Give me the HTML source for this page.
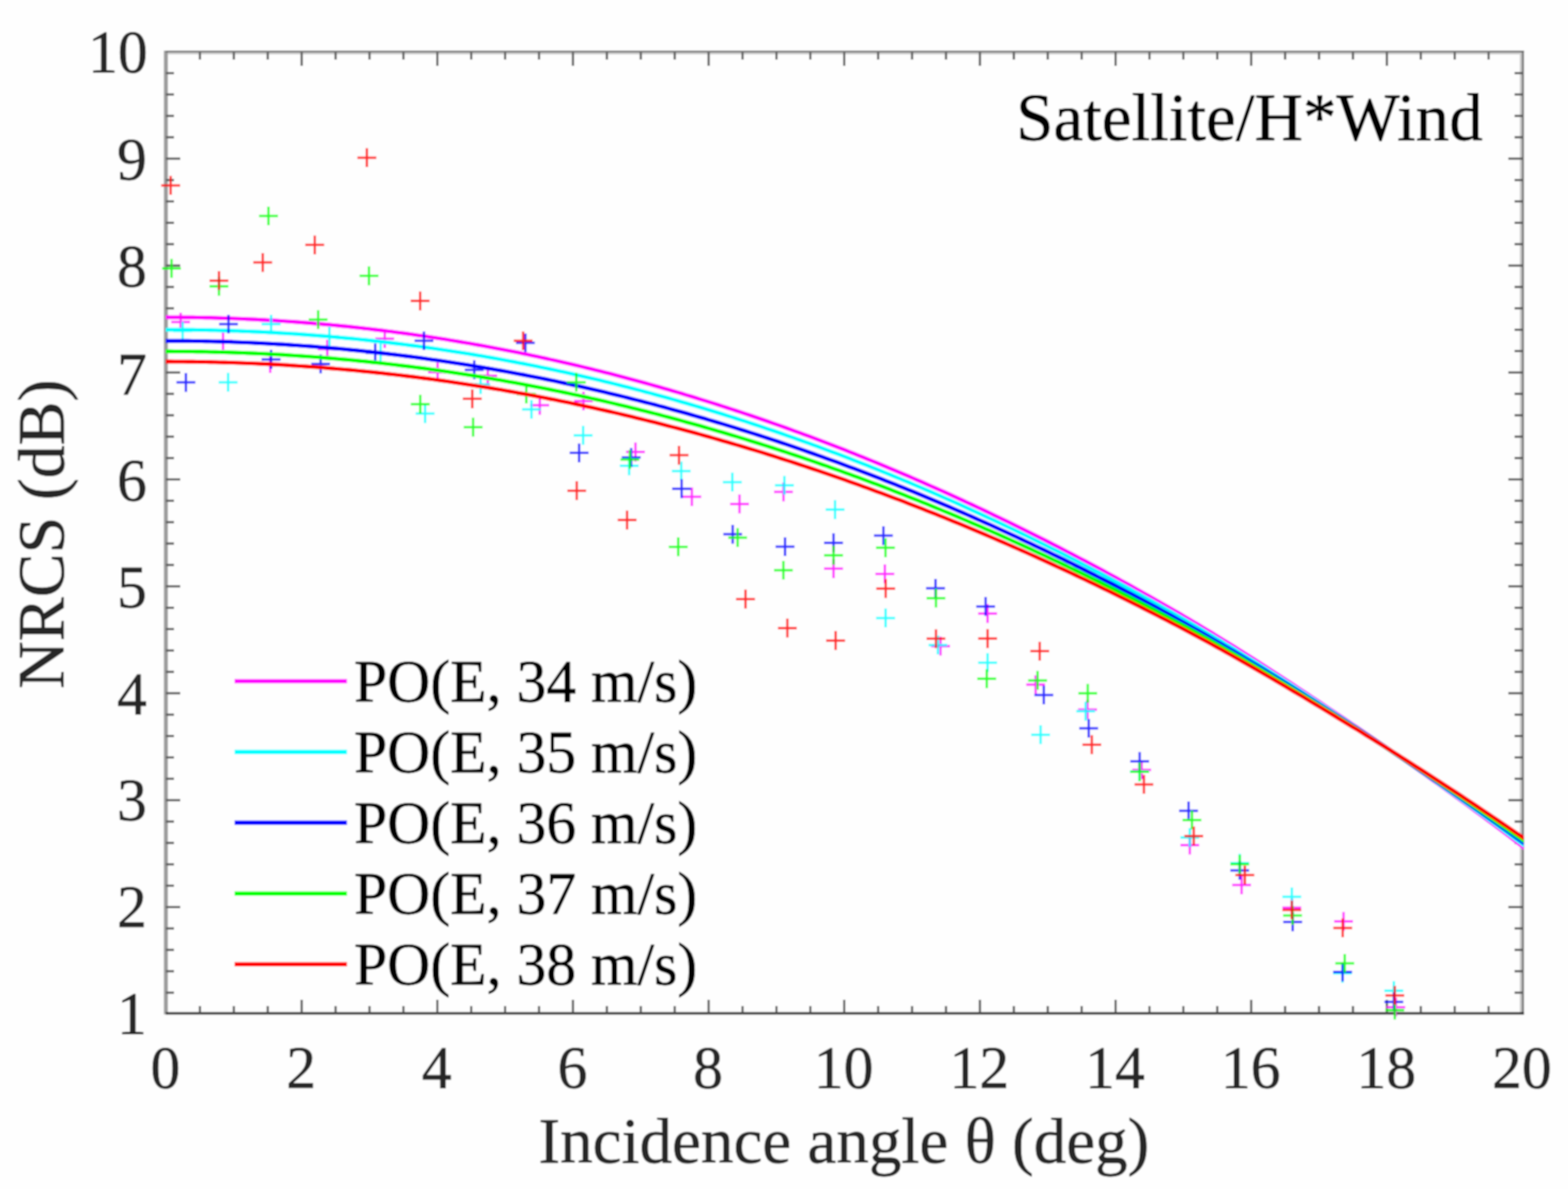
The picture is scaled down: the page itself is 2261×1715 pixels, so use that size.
<!DOCTYPE html>
<html lang="en"><head><meta charset="utf-8"><title>NRCS vs incidence angle</title>
<style>html,body{margin:0;padding:0;background:#fff}body{width:2261px;height:1715px;overflow:hidden}svg{display:block}text{font-family:"Liberation Serif","Times New Roman",Times,serif;stroke-width:0.9px;stroke-linejoin:round}#legend text,#title{stroke:#000}#ylabels text,#xlabels text,#xlabel,#ylabel{stroke:#262626}</style></head><body>
<svg width="2261" height="1715" viewBox="0 0 2261 1715">
<rect width="2261" height="1715" fill="#fefefe"/>
<defs><filter id="soft" x="0" y="0" width="2261" height="1715" filterUnits="userSpaceOnUse"><feGaussianBlur stdDeviation="1.0"/></filter></defs>
<g id="figure" filter="url(#soft)">
<rect width="2261" height="1715" fill="#fefefe"/>
<defs><clipPath id="pc"><rect x="238.9" y="73.0" width="1958.5" height="1391.1"/></clipPath></defs>
<g id="axes" fill="none">
<rect x="236.3" y="73" width="5.8" height="1390.2" fill="#9c9c9c"/>
<rect x="2191.6" y="73" width="3" height="1390.2" fill="#c8c8c8"/>
<rect x="2194.6" y="73" width="2.8" height="1390.2" fill="#6a6a6a"/>
<rect x="239" y="73" width="1958.4" height="2.7" fill="#6a6a6a"/>
<rect x="242" y="75.7" width="1949.6" height="2.6" fill="#c8c8c8"/>
<rect x="239" y="1459.8" width="1958.4" height="3.6" fill="#262626"/>
</g>
<g id="ticks" stroke="#555" stroke-width="3.2">
<line x1="288.3" y1="1461.6" x2="288.3" y2="1451.1"/>
<line x1="288.3" y1="75.5" x2="288.3" y2="86.0"/>
<line x1="337.2" y1="1461.6" x2="337.2" y2="1451.1"/>
<line x1="337.2" y1="75.5" x2="337.2" y2="86.0"/>
<line x1="386.1" y1="1461.6" x2="386.1" y2="1451.1"/>
<line x1="386.1" y1="75.5" x2="386.1" y2="86.0"/>
<line x1="435.0" y1="1461.6" x2="435.0" y2="1442.1"/>
<line x1="435.0" y1="75.5" x2="435.0" y2="95.0"/>
<line x1="483.9" y1="1461.6" x2="483.9" y2="1451.1"/>
<line x1="483.9" y1="75.5" x2="483.9" y2="86.0"/>
<line x1="532.8" y1="1461.6" x2="532.8" y2="1451.1"/>
<line x1="532.8" y1="75.5" x2="532.8" y2="86.0"/>
<line x1="581.7" y1="1461.6" x2="581.7" y2="1451.1"/>
<line x1="581.7" y1="75.5" x2="581.7" y2="86.0"/>
<line x1="630.6" y1="1461.6" x2="630.6" y2="1442.1"/>
<line x1="630.6" y1="75.5" x2="630.6" y2="95.0"/>
<line x1="679.5" y1="1461.6" x2="679.5" y2="1451.1"/>
<line x1="679.5" y1="75.5" x2="679.5" y2="86.0"/>
<line x1="728.4" y1="1461.6" x2="728.4" y2="1451.1"/>
<line x1="728.4" y1="75.5" x2="728.4" y2="86.0"/>
<line x1="777.3" y1="1461.6" x2="777.3" y2="1451.1"/>
<line x1="777.3" y1="75.5" x2="777.3" y2="86.0"/>
<line x1="826.2" y1="1461.6" x2="826.2" y2="1442.1"/>
<line x1="826.2" y1="75.5" x2="826.2" y2="95.0"/>
<line x1="875.1" y1="1461.6" x2="875.1" y2="1451.1"/>
<line x1="875.1" y1="75.5" x2="875.1" y2="86.0"/>
<line x1="924.0" y1="1461.6" x2="924.0" y2="1451.1"/>
<line x1="924.0" y1="75.5" x2="924.0" y2="86.0"/>
<line x1="972.9" y1="1461.6" x2="972.9" y2="1451.1"/>
<line x1="972.9" y1="75.5" x2="972.9" y2="86.0"/>
<line x1="1021.8" y1="1461.6" x2="1021.8" y2="1442.1"/>
<line x1="1021.8" y1="75.5" x2="1021.8" y2="95.0"/>
<line x1="1070.7" y1="1461.6" x2="1070.7" y2="1451.1"/>
<line x1="1070.7" y1="75.5" x2="1070.7" y2="86.0"/>
<line x1="1119.6" y1="1461.6" x2="1119.6" y2="1451.1"/>
<line x1="1119.6" y1="75.5" x2="1119.6" y2="86.0"/>
<line x1="1168.5" y1="1461.6" x2="1168.5" y2="1451.1"/>
<line x1="1168.5" y1="75.5" x2="1168.5" y2="86.0"/>
<line x1="1217.4" y1="1461.6" x2="1217.4" y2="1442.1"/>
<line x1="1217.4" y1="75.5" x2="1217.4" y2="95.0"/>
<line x1="1266.3" y1="1461.6" x2="1266.3" y2="1451.1"/>
<line x1="1266.3" y1="75.5" x2="1266.3" y2="86.0"/>
<line x1="1315.2" y1="1461.6" x2="1315.2" y2="1451.1"/>
<line x1="1315.2" y1="75.5" x2="1315.2" y2="86.0"/>
<line x1="1364.1" y1="1461.6" x2="1364.1" y2="1451.1"/>
<line x1="1364.1" y1="75.5" x2="1364.1" y2="86.0"/>
<line x1="1413.0" y1="1461.6" x2="1413.0" y2="1442.1"/>
<line x1="1413.0" y1="75.5" x2="1413.0" y2="95.0"/>
<line x1="1461.9" y1="1461.6" x2="1461.9" y2="1451.1"/>
<line x1="1461.9" y1="75.5" x2="1461.9" y2="86.0"/>
<line x1="1510.8" y1="1461.6" x2="1510.8" y2="1451.1"/>
<line x1="1510.8" y1="75.5" x2="1510.8" y2="86.0"/>
<line x1="1559.7" y1="1461.6" x2="1559.7" y2="1451.1"/>
<line x1="1559.7" y1="75.5" x2="1559.7" y2="86.0"/>
<line x1="1608.6" y1="1461.6" x2="1608.6" y2="1442.1"/>
<line x1="1608.6" y1="75.5" x2="1608.6" y2="95.0"/>
<line x1="1657.5" y1="1461.6" x2="1657.5" y2="1451.1"/>
<line x1="1657.5" y1="75.5" x2="1657.5" y2="86.0"/>
<line x1="1706.4" y1="1461.6" x2="1706.4" y2="1451.1"/>
<line x1="1706.4" y1="75.5" x2="1706.4" y2="86.0"/>
<line x1="1755.3" y1="1461.6" x2="1755.3" y2="1451.1"/>
<line x1="1755.3" y1="75.5" x2="1755.3" y2="86.0"/>
<line x1="1804.2" y1="1461.6" x2="1804.2" y2="1442.1"/>
<line x1="1804.2" y1="75.5" x2="1804.2" y2="95.0"/>
<line x1="1853.1" y1="1461.6" x2="1853.1" y2="1451.1"/>
<line x1="1853.1" y1="75.5" x2="1853.1" y2="86.0"/>
<line x1="1902.0" y1="1461.6" x2="1902.0" y2="1451.1"/>
<line x1="1902.0" y1="75.5" x2="1902.0" y2="86.0"/>
<line x1="1950.9" y1="1461.6" x2="1950.9" y2="1451.1"/>
<line x1="1950.9" y1="75.5" x2="1950.9" y2="86.0"/>
<line x1="1999.8" y1="1461.6" x2="1999.8" y2="1442.1"/>
<line x1="1999.8" y1="75.5" x2="1999.8" y2="95.0"/>
<line x1="2048.7" y1="1461.6" x2="2048.7" y2="1451.1"/>
<line x1="2048.7" y1="75.5" x2="2048.7" y2="86.0"/>
<line x1="2097.6" y1="1461.6" x2="2097.6" y2="1451.1"/>
<line x1="2097.6" y1="75.5" x2="2097.6" y2="86.0"/>
<line x1="2146.5" y1="1461.6" x2="2146.5" y2="1451.1"/>
<line x1="2146.5" y1="75.5" x2="2146.5" y2="86.0"/>
<line x1="239.4" y1="1431.8" x2="250.9" y2="1431.8"/>
<line x1="2195.4" y1="1431.8" x2="2183.9" y2="1431.8"/>
<line x1="239.4" y1="1400.9" x2="250.9" y2="1400.9"/>
<line x1="2195.4" y1="1400.9" x2="2183.9" y2="1400.9"/>
<line x1="239.4" y1="1370.1" x2="250.9" y2="1370.1"/>
<line x1="2195.4" y1="1370.1" x2="2183.9" y2="1370.1"/>
<line x1="239.4" y1="1339.2" x2="250.9" y2="1339.2"/>
<line x1="2195.4" y1="1339.2" x2="2183.9" y2="1339.2"/>
<line x1="239.4" y1="1308.4" x2="259.9" y2="1308.4"/>
<line x1="2195.4" y1="1308.4" x2="2174.9" y2="1308.4"/>
<line x1="239.4" y1="1277.5" x2="250.9" y2="1277.5"/>
<line x1="2195.4" y1="1277.5" x2="2183.9" y2="1277.5"/>
<line x1="239.4" y1="1246.7" x2="250.9" y2="1246.7"/>
<line x1="2195.4" y1="1246.7" x2="2183.9" y2="1246.7"/>
<line x1="239.4" y1="1215.8" x2="250.9" y2="1215.8"/>
<line x1="2195.4" y1="1215.8" x2="2183.9" y2="1215.8"/>
<line x1="239.4" y1="1185.0" x2="250.9" y2="1185.0"/>
<line x1="2195.4" y1="1185.0" x2="2183.9" y2="1185.0"/>
<line x1="239.4" y1="1154.2" x2="259.9" y2="1154.2"/>
<line x1="2195.4" y1="1154.2" x2="2174.9" y2="1154.2"/>
<line x1="239.4" y1="1123.3" x2="250.9" y2="1123.3"/>
<line x1="2195.4" y1="1123.3" x2="2183.9" y2="1123.3"/>
<line x1="239.4" y1="1092.5" x2="250.9" y2="1092.5"/>
<line x1="2195.4" y1="1092.5" x2="2183.9" y2="1092.5"/>
<line x1="239.4" y1="1061.6" x2="250.9" y2="1061.6"/>
<line x1="2195.4" y1="1061.6" x2="2183.9" y2="1061.6"/>
<line x1="239.4" y1="1030.8" x2="250.9" y2="1030.8"/>
<line x1="2195.4" y1="1030.8" x2="2183.9" y2="1030.8"/>
<line x1="239.4" y1="999.9" x2="259.9" y2="999.9"/>
<line x1="2195.4" y1="999.9" x2="2174.9" y2="999.9"/>
<line x1="239.4" y1="969.1" x2="250.9" y2="969.1"/>
<line x1="2195.4" y1="969.1" x2="2183.9" y2="969.1"/>
<line x1="239.4" y1="938.3" x2="250.9" y2="938.3"/>
<line x1="2195.4" y1="938.3" x2="2183.9" y2="938.3"/>
<line x1="239.4" y1="907.4" x2="250.9" y2="907.4"/>
<line x1="2195.4" y1="907.4" x2="2183.9" y2="907.4"/>
<line x1="239.4" y1="876.6" x2="250.9" y2="876.6"/>
<line x1="2195.4" y1="876.6" x2="2183.9" y2="876.6"/>
<line x1="239.4" y1="845.7" x2="259.9" y2="845.7"/>
<line x1="2195.4" y1="845.7" x2="2174.9" y2="845.7"/>
<line x1="239.4" y1="814.9" x2="250.9" y2="814.9"/>
<line x1="2195.4" y1="814.9" x2="2183.9" y2="814.9"/>
<line x1="239.4" y1="784.0" x2="250.9" y2="784.0"/>
<line x1="2195.4" y1="784.0" x2="2183.9" y2="784.0"/>
<line x1="239.4" y1="753.2" x2="250.9" y2="753.2"/>
<line x1="2195.4" y1="753.2" x2="2183.9" y2="753.2"/>
<line x1="239.4" y1="722.3" x2="250.9" y2="722.3"/>
<line x1="2195.4" y1="722.3" x2="2183.9" y2="722.3"/>
<line x1="239.4" y1="691.5" x2="259.9" y2="691.5"/>
<line x1="2195.4" y1="691.5" x2="2174.9" y2="691.5"/>
<line x1="239.4" y1="660.7" x2="250.9" y2="660.7"/>
<line x1="2195.4" y1="660.7" x2="2183.9" y2="660.7"/>
<line x1="239.4" y1="629.8" x2="250.9" y2="629.8"/>
<line x1="2195.4" y1="629.8" x2="2183.9" y2="629.8"/>
<line x1="239.4" y1="599.0" x2="250.9" y2="599.0"/>
<line x1="2195.4" y1="599.0" x2="2183.9" y2="599.0"/>
<line x1="239.4" y1="568.1" x2="250.9" y2="568.1"/>
<line x1="2195.4" y1="568.1" x2="2183.9" y2="568.1"/>
<line x1="239.4" y1="537.3" x2="259.9" y2="537.3"/>
<line x1="2195.4" y1="537.3" x2="2174.9" y2="537.3"/>
<line x1="239.4" y1="506.4" x2="250.9" y2="506.4"/>
<line x1="2195.4" y1="506.4" x2="2183.9" y2="506.4"/>
<line x1="239.4" y1="475.6" x2="250.9" y2="475.6"/>
<line x1="2195.4" y1="475.6" x2="2183.9" y2="475.6"/>
<line x1="239.4" y1="444.7" x2="250.9" y2="444.7"/>
<line x1="2195.4" y1="444.7" x2="2183.9" y2="444.7"/>
<line x1="239.4" y1="413.9" x2="250.9" y2="413.9"/>
<line x1="2195.4" y1="413.9" x2="2183.9" y2="413.9"/>
<line x1="239.4" y1="383.1" x2="259.9" y2="383.1"/>
<line x1="2195.4" y1="383.1" x2="2174.9" y2="383.1"/>
<line x1="239.4" y1="352.2" x2="250.9" y2="352.2"/>
<line x1="2195.4" y1="352.2" x2="2183.9" y2="352.2"/>
<line x1="239.4" y1="321.4" x2="250.9" y2="321.4"/>
<line x1="2195.4" y1="321.4" x2="2183.9" y2="321.4"/>
<line x1="239.4" y1="290.5" x2="250.9" y2="290.5"/>
<line x1="2195.4" y1="290.5" x2="2183.9" y2="290.5"/>
<line x1="239.4" y1="259.7" x2="250.9" y2="259.7"/>
<line x1="2195.4" y1="259.7" x2="2183.9" y2="259.7"/>
<line x1="239.4" y1="228.8" x2="259.9" y2="228.8"/>
<line x1="2195.4" y1="228.8" x2="2174.9" y2="228.8"/>
<line x1="239.4" y1="198.0" x2="250.9" y2="198.0"/>
<line x1="2195.4" y1="198.0" x2="2183.9" y2="198.0"/>
<line x1="239.4" y1="167.2" x2="250.9" y2="167.2"/>
<line x1="2195.4" y1="167.2" x2="2183.9" y2="167.2"/>
<line x1="239.4" y1="136.3" x2="250.9" y2="136.3"/>
<line x1="2195.4" y1="136.3" x2="2183.9" y2="136.3"/>
<line x1="239.4" y1="105.5" x2="250.9" y2="105.5"/>
<line x1="2195.4" y1="105.5" x2="2183.9" y2="105.5"/>
</g>
<g id="data" fill="none">
<path d="M246.9 464.6h27.2M260.5 451.0v27.2M308.0 491.5h27.2M321.6 477.9v27.2M376.0 524.4h27.2M389.6 510.8v27.2M458.3 503.5h27.2M471.9 489.9v27.2M541.1 488.5h27.2M554.7 474.9v27.2M617.4 536.8h27.2M631.0 523.2v27.2M689.8 541.9h27.2M703.4 528.3v27.2M764.8 584.6h27.2M778.4 571.0v27.2M827.8 578.5h27.2M841.4 564.9v27.2M902.8 651.8h27.2M916.4 638.2v27.2M984.0 716.5h27.2M997.6 702.9v27.2M1052.8 726.9h27.2M1066.4 713.3v27.2M1116.1 709.6h27.2M1129.7 696.0v27.2M1188.3 820.3h27.2M1201.9 806.7v27.2M1262.3 827.7h27.2M1275.9 814.1v27.2M1342.7 931.9h27.2M1356.3 918.3v27.2M1410.5 884.9h27.2M1424.1 871.3v27.2M1479.8 987.5h27.2M1493.4 973.9v27.2M1554.6 1023.4h27.2M1568.2 1009.8v27.2M1632.7 1110.5h27.2M1646.3 1096.9v27.2M1702.0 1219.0h27.2M1715.6 1205.4v27.2M1776.8 1276.4h27.2M1790.4 1262.8v27.2M1849.1 1309.3h27.2M1862.7 1295.7v27.2M1923.8 1329.1h27.2M1937.4 1315.5v27.2M1999.1 1452.7h27.2M2012.7 1439.1v27.2" stroke="#ff00ff" stroke-width="3.5" stroke-opacity="0.82"/>
<path clip-path="url(#pc)" d="M238.4 457.5 L244.9 457.6 L251.5 457.6 L258.0 457.6 L264.5 457.7 L271.1 457.7 L277.6 457.8 L284.1 457.9 L290.7 458.1 L297.2 458.2 L303.7 458.3 L310.3 458.5 L316.8 458.7 L323.3 458.9 L329.9 459.1 L336.4 459.4 L342.9 459.6 L349.5 459.9 L356.0 460.2 L362.5 460.5 L369.1 460.8 L375.6 461.2 L382.1 461.5 L388.7 461.9 L395.2 462.3 L401.7 462.7 L408.3 463.1 L414.8 463.6 L421.3 464.0 L427.9 464.5 L434.4 465.0 L440.9 465.5 L447.5 466.0 L454.0 466.6 L460.5 467.1 L467.1 467.7 L473.6 468.3 L480.1 468.9 L486.7 469.5 L493.2 470.2 L499.7 470.8 L506.3 471.5 L512.8 472.2 L519.3 472.9 L525.9 473.7 L532.4 474.4 L538.9 475.2 L545.5 476.0 L552.0 476.8 L558.5 477.6 L565.1 478.4 L571.6 479.3 L578.1 480.1 L584.7 481.0 L591.2 481.9 L597.7 482.8 L604.3 483.8 L610.8 484.7 L617.3 485.7 L623.9 486.7 L630.4 487.7 L636.9 488.7 L643.5 489.7 L650.0 490.8 L656.5 491.9 L663.1 493.0 L669.6 494.1 L676.1 495.2 L682.7 496.4 L689.2 497.5 L695.7 498.7 L702.3 499.9 L708.8 501.1 L715.3 502.3 L721.9 503.6 L728.4 504.8 L734.9 506.1 L741.5 507.4 L748.0 508.7 L754.5 510.1 L761.1 511.4 L767.6 512.8 L774.1 514.2 L780.7 515.6 L787.2 517.0 L793.7 518.5 L800.3 519.9 L806.8 521.4 L813.3 522.9 L819.9 524.4 L826.4 525.9 L832.9 527.4 L839.5 529.0 L846.0 530.6 L852.5 532.2 L859.1 533.8 L865.6 535.4 L872.1 537.1 L878.7 538.7 L885.2 540.4 L891.7 542.1 L898.3 543.8 L904.8 545.6 L911.3 547.3 L917.9 549.1 L924.4 550.9 L930.9 552.7 L937.5 554.5 L944.0 556.3 L950.5 558.2 L957.1 560.1 L963.6 561.9 L970.1 563.8 L976.7 565.8 L983.2 567.7 L989.7 569.7 L996.3 571.6 L1002.8 573.6 L1009.3 575.7 L1015.9 577.7 L1022.4 579.7 L1028.9 581.8 L1035.5 583.9 L1042.0 586.0 L1048.5 588.1 L1055.1 590.2 L1061.6 592.4 L1068.1 594.5 L1074.7 596.7 L1081.2 598.9 L1087.7 601.1 L1094.3 603.4 L1100.8 605.6 L1107.3 607.9 L1113.9 610.2 L1120.4 612.5 L1126.9 614.8 L1133.5 617.1 L1140.0 619.5 L1146.5 621.9 L1153.1 624.3 L1159.6 626.7 L1166.1 629.1 L1172.7 631.5 L1179.2 634.0 L1185.7 636.5 L1192.3 639.0 L1198.8 641.5 L1205.3 644.0 L1211.9 646.6 L1218.4 649.1 L1224.9 651.7 L1231.5 654.3 L1238.0 656.9 L1244.5 659.5 L1251.1 662.2 L1257.6 664.9 L1264.1 667.5 L1270.7 670.2 L1277.2 673.0 L1283.7 675.7 L1290.3 678.4 L1296.8 681.2 L1303.3 684.0 L1309.9 686.8 L1316.4 689.6 L1322.9 692.5 L1329.5 695.3 L1336.0 698.2 L1342.5 701.1 L1349.1 704.0 L1355.6 706.9 L1362.1 709.8 L1368.7 712.8 L1375.2 715.7 L1381.7 718.7 L1388.3 721.7 L1394.8 724.8 L1401.3 727.8 L1407.9 730.9 L1414.4 733.9 L1420.9 737.0 L1427.5 740.1 L1434.0 743.3 L1440.5 746.4 L1447.1 749.6 L1453.6 752.7 L1460.1 755.9 L1466.7 759.1 L1473.2 762.3 L1479.7 765.6 L1486.3 768.8 L1492.8 772.1 L1499.3 775.4 L1505.9 778.7 L1512.4 782.0 L1518.9 785.4 L1525.5 788.7 L1532.0 792.1 L1538.5 795.5 L1545.1 798.9 L1551.6 802.3 L1558.1 805.8 L1564.7 809.2 L1571.2 812.7 L1577.7 816.2 L1584.3 819.7 L1590.8 823.2 L1597.3 826.8 L1603.9 830.3 L1610.4 833.9 L1616.9 837.5 L1623.5 841.1 L1630.0 844.7 L1636.5 848.3 L1643.1 852.0 L1649.6 855.7 L1656.1 859.4 L1662.7 863.1 L1669.2 866.8 L1675.7 870.5 L1682.3 874.3 L1688.8 878.0 L1695.3 881.8 L1701.9 885.6 L1708.4 889.5 L1714.9 893.3 L1721.5 897.2 L1728.0 901.1 L1734.5 905.0 L1741.1 909.0 L1747.6 912.9 L1754.1 916.9 L1760.7 920.9 L1767.2 925.0 L1773.7 929.0 L1780.3 933.1 L1786.8 937.2 L1793.3 941.3 L1799.9 945.5 L1806.4 949.6 L1812.9 953.8 L1819.5 958.0 L1826.0 962.2 L1832.5 966.4 L1839.1 970.7 L1845.6 974.9 L1852.1 979.2 L1858.7 983.5 L1865.2 987.8 L1871.7 992.1 L1878.3 996.4 L1884.8 1000.7 L1891.3 1005.1 L1897.9 1009.4 L1904.4 1013.8 L1910.9 1018.2 L1917.5 1022.6 L1924.0 1027.0 L1930.5 1031.4 L1937.1 1035.8 L1943.6 1040.2 L1950.1 1044.6 L1956.7 1049.0 L1963.2 1053.5 L1969.7 1057.9 L1976.3 1062.4 L1982.8 1066.9 L1989.3 1071.4 L1995.9 1075.9 L2002.4 1080.4 L2008.9 1085.0 L2015.5 1089.5 L2022.0 1094.1 L2028.5 1098.7 L2035.1 1103.3 L2041.6 1107.9 L2048.1 1112.5 L2054.7 1117.2 L2061.2 1121.9 L2067.7 1126.5 L2074.3 1131.2 L2080.8 1135.9 L2087.3 1140.7 L2093.9 1145.4 L2100.4 1150.2 L2106.9 1154.9 L2113.5 1159.7 L2120.0 1164.5 L2126.5 1169.3 L2133.1 1174.2 L2139.6 1179.0 L2146.1 1183.9 L2152.7 1188.7 L2159.2 1193.6 L2165.7 1198.5 L2172.3 1203.5 L2178.8 1208.4 L2185.3 1213.3 L2191.9 1218.3 L2198.4 1223.3" stroke="#ff00ff" stroke-width="5.9" stroke-linejoin="round"/>
<path d="M249.8 477.6h27.2M263.4 464.0v27.2M315.3 551.4h27.2M328.9 537.8v27.2M377.3 467.5h27.2M390.9 453.9v27.2M461.4 485.2h27.2M475.0 471.6v27.2M535.1 509.6h27.2M548.7 496.0v27.2M599.4 596.6h27.2M613.0 583.0v27.2M679.4 554.6h27.2M693.0 541.0v27.2M752.8 590.5h27.2M766.4 576.9v27.2M827.2 627.9h27.2M840.8 614.3v27.2M893.7 671.8h27.2M907.3 658.2v27.2M968.8 679.4h27.2M982.4 665.8v27.2M1042.4 695.4h27.2M1056.0 681.8v27.2M1117.5 700.0h27.2M1131.1 686.4v27.2M1190.6 735.1h27.2M1204.2 721.5v27.2M1263.4 891.4h27.2M1277.0 877.8v27.2M1338.9 930.4h27.2M1352.5 916.8v27.2M1410.5 955.7h27.2M1424.1 942.1v27.2M1486.9 1059.7h27.2M1500.5 1046.1v27.2M1551.9 1025.8h27.2M1565.5 1012.2v27.2M1629.4 1113.0h27.2M1643.0 1099.4v27.2M1702.0 1208.0h27.2M1715.6 1194.4v27.2M1774.0 1245.0h27.2M1787.6 1231.4v27.2M1849.1 1293.5h27.2M1862.7 1279.9v27.2M1922.1 1403.8h27.2M1935.7 1390.2v27.2M1996.2 1428.9h27.2M2009.8 1415.3v27.2" stroke="#00ffff" stroke-width="3.5" stroke-opacity="0.82"/>
<path clip-path="url(#pc)" d="M238.4 475.6 L244.9 475.6 L251.5 475.6 L258.0 475.6 L264.5 475.7 L271.1 475.7 L277.6 475.8 L284.1 475.9 L290.7 476.0 L297.2 476.1 L303.7 476.3 L310.3 476.4 L316.8 476.6 L323.3 476.8 L329.9 477.0 L336.4 477.2 L342.9 477.4 L349.5 477.7 L356.0 477.9 L362.5 478.2 L369.1 478.5 L375.6 478.8 L382.1 479.1 L388.7 479.5 L395.2 479.8 L401.7 480.2 L408.3 480.6 L414.8 481.0 L421.3 481.4 L427.9 481.8 L434.4 482.3 L440.9 482.8 L447.5 483.2 L454.0 483.7 L460.5 484.2 L467.1 484.8 L473.6 485.3 L480.1 485.9 L486.7 486.5 L493.2 487.1 L499.7 487.7 L506.3 488.3 L512.8 488.9 L519.3 489.6 L525.9 490.3 L532.4 491.0 L538.9 491.7 L545.5 492.4 L552.0 493.2 L558.5 493.9 L565.1 494.7 L571.6 495.5 L578.1 496.3 L584.7 497.1 L591.2 498.0 L597.7 498.8 L604.3 499.7 L610.8 500.6 L617.3 501.5 L623.9 502.4 L630.4 503.4 L636.9 504.3 L643.5 505.3 L650.0 506.3 L656.5 507.3 L663.1 508.3 L669.6 509.4 L676.1 510.4 L682.7 511.5 L689.2 512.6 L695.7 513.7 L702.3 514.9 L708.8 516.0 L715.3 517.2 L721.9 518.4 L728.4 519.6 L734.9 520.8 L741.5 522.0 L748.0 523.3 L754.5 524.5 L761.1 525.8 L767.6 527.1 L774.1 528.4 L780.7 529.8 L787.2 531.1 L793.7 532.5 L800.3 533.9 L806.8 535.3 L813.3 536.7 L819.9 538.1 L826.4 539.6 L832.9 541.1 L839.5 542.6 L846.0 544.1 L852.5 545.6 L859.1 547.1 L865.6 548.7 L872.1 550.3 L878.7 551.9 L885.2 553.5 L891.7 555.1 L898.3 556.8 L904.8 558.4 L911.3 560.1 L917.9 561.8 L924.4 563.5 L930.9 565.3 L937.5 567.0 L944.0 568.8 L950.5 570.6 L957.1 572.4 L963.6 574.2 L970.1 576.0 L976.7 577.9 L983.2 579.8 L989.7 581.7 L996.3 583.6 L1002.8 585.5 L1009.3 587.4 L1015.9 589.4 L1022.4 591.4 L1028.9 593.4 L1035.5 595.4 L1042.0 597.4 L1048.5 599.5 L1055.1 601.5 L1061.6 603.6 L1068.1 605.7 L1074.7 607.8 L1081.2 610.0 L1087.7 612.1 L1094.3 614.3 L1100.8 616.5 L1107.3 618.7 L1113.9 620.9 L1120.4 623.1 L1126.9 625.4 L1133.5 627.7 L1140.0 630.0 L1146.5 632.3 L1153.1 634.6 L1159.6 637.0 L1166.1 639.3 L1172.7 641.7 L1179.2 644.1 L1185.7 646.5 L1192.3 648.9 L1198.8 651.4 L1205.3 653.8 L1211.9 656.3 L1218.4 658.8 L1224.9 661.3 L1231.5 663.9 L1238.0 666.4 L1244.5 669.0 L1251.1 671.6 L1257.6 674.2 L1264.1 676.8 L1270.7 679.4 L1277.2 682.1 L1283.7 684.8 L1290.3 687.4 L1296.8 690.1 L1303.3 692.9 L1309.9 695.6 L1316.4 698.4 L1322.9 701.1 L1329.5 703.9 L1336.0 706.7 L1342.5 709.5 L1349.1 712.4 L1355.6 715.2 L1362.1 718.1 L1368.7 721.0 L1375.2 723.9 L1381.7 726.8 L1388.3 729.8 L1394.8 732.7 L1401.3 735.7 L1407.9 738.7 L1414.4 741.7 L1420.9 744.7 L1427.5 747.8 L1434.0 750.8 L1440.5 753.9 L1447.1 757.0 L1453.6 760.1 L1460.1 763.2 L1466.7 766.4 L1473.2 769.5 L1479.7 772.7 L1486.3 775.9 L1492.8 779.1 L1499.3 782.3 L1505.9 785.6 L1512.4 788.8 L1518.9 792.1 L1525.5 795.4 L1532.0 798.7 L1538.5 802.0 L1545.1 805.4 L1551.6 808.7 L1558.1 812.1 L1564.7 815.5 L1571.2 818.9 L1577.7 822.3 L1584.3 825.7 L1590.8 829.2 L1597.3 832.7 L1603.9 836.1 L1610.4 839.6 L1616.9 843.2 L1623.5 846.7 L1630.0 850.2 L1636.5 853.8 L1643.1 857.4 L1649.6 861.0 L1656.1 864.6 L1662.7 868.2 L1669.2 871.9 L1675.7 875.5 L1682.3 879.2 L1688.8 882.9 L1695.3 886.6 L1701.9 890.3 L1708.4 894.1 L1714.9 897.9 L1721.5 901.6 L1728.0 905.5 L1734.5 909.3 L1741.1 913.2 L1747.6 917.1 L1754.1 921.0 L1760.7 924.9 L1767.2 928.9 L1773.7 932.8 L1780.3 936.8 L1786.8 940.9 L1793.3 944.9 L1799.9 948.9 L1806.4 953.0 L1812.9 957.1 L1819.5 961.2 L1826.0 965.3 L1832.5 969.4 L1839.1 973.6 L1845.6 977.8 L1852.1 981.9 L1858.7 986.1 L1865.2 990.3 L1871.7 994.5 L1878.3 998.8 L1884.8 1003.0 L1891.3 1007.2 L1897.9 1011.5 L1904.4 1015.8 L1910.9 1020.0 L1917.5 1024.3 L1924.0 1028.6 L1930.5 1032.9 L1937.1 1037.2 L1943.6 1041.5 L1950.1 1045.9 L1956.7 1050.2 L1963.2 1054.5 L1969.7 1058.9 L1976.3 1063.2 L1982.8 1067.6 L1989.3 1072.0 L1995.9 1076.4 L2002.4 1080.8 L2008.9 1085.2 L2015.5 1089.7 L2022.0 1094.1 L2028.5 1098.6 L2035.1 1103.1 L2041.6 1107.6 L2048.1 1112.1 L2054.7 1116.6 L2061.2 1121.1 L2067.7 1125.7 L2074.3 1130.3 L2080.8 1134.9 L2087.3 1139.5 L2093.9 1144.1 L2100.4 1148.7 L2106.9 1153.3 L2113.5 1158.0 L2120.0 1162.7 L2126.5 1167.3 L2133.1 1172.0 L2139.6 1176.7 L2146.1 1181.5 L2152.7 1186.2 L2159.2 1190.9 L2165.7 1195.7 L2172.3 1200.5 L2178.8 1205.3 L2185.3 1210.1 L2191.9 1214.9 L2198.4 1219.7" stroke="#00ffff" stroke-width="5.9" stroke-linejoin="round"/>
<path d="M254.5 551.6h27.2M268.1 538.0v27.2M315.9 467.5h27.2M329.5 453.9v27.2M377.3 518.4h27.2M390.9 504.8v27.2M448.8 525.0h27.2M462.4 511.4v27.2M527.5 509.0h27.2M541.1 495.4v27.2M597.8 491.5h27.2M611.4 477.9v27.2M670.2 533.4h27.2M683.8 519.8v27.2M744.0 494.5h27.2M757.6 480.9v27.2M821.5 653.3h27.2M835.1 639.7v27.2M896.6 659.8h27.2M910.2 646.2v27.2M969.2 704.9h27.2M982.8 691.3v27.2M1042.9 770.6h27.2M1056.5 757.0v27.2M1118.4 788.5h27.2M1132.0 774.9v27.2M1188.3 782.9h27.2M1201.9 769.3v27.2M1260.2 772.6h27.2M1273.8 759.0v27.2M1335.4 848.6h27.2M1349.0 835.0v27.2M1407.7 874.7h27.2M1421.3 861.1v27.2M1491.6 1002.5h27.2M1505.2 988.9v27.2M1556.2 1050.5h27.2M1569.8 1036.9v27.2M1629.8 1098.3h27.2M1643.4 1084.7v27.2M1700.2 1169.5h27.2M1713.8 1155.9v27.2M1774.0 1255.5h27.2M1787.6 1241.9v27.2M1850.4 1329.7h27.2M1864.0 1316.1v27.2M1922.4 1401.9h27.2M1936.0 1388.3v27.2M1996.2 1445.2h27.2M2009.8 1431.6v27.2" stroke="#0000ff" stroke-width="3.5" stroke-opacity="0.82"/>
<path clip-path="url(#pc)" d="M238.4 491.7 L244.9 491.7 L251.5 491.7 L258.0 491.7 L264.5 491.8 L271.1 491.8 L277.6 491.9 L284.1 492.0 L290.7 492.1 L297.2 492.3 L303.7 492.4 L310.3 492.6 L316.8 492.7 L323.3 492.9 L329.9 493.1 L336.4 493.4 L342.9 493.6 L349.5 493.9 L356.0 494.1 L362.5 494.4 L369.1 494.7 L375.6 495.0 L382.1 495.4 L388.7 495.7 L395.2 496.1 L401.7 496.5 L408.3 496.8 L414.8 497.3 L421.3 497.7 L427.9 498.1 L434.4 498.6 L440.9 499.1 L447.5 499.5 L454.0 500.0 L460.5 500.6 L467.1 501.1 L473.6 501.7 L480.1 502.2 L486.7 502.8 L493.2 503.4 L499.7 504.0 L506.3 504.7 L512.8 505.3 L519.3 506.0 L525.9 506.6 L532.4 507.3 L538.9 508.1 L545.5 508.8 L552.0 509.5 L558.5 510.3 L565.1 511.1 L571.6 511.8 L578.1 512.7 L584.7 513.5 L591.2 514.3 L597.7 515.2 L604.3 516.0 L610.8 516.9 L617.3 517.8 L623.9 518.8 L630.4 519.7 L636.9 520.6 L643.5 521.6 L650.0 522.6 L656.5 523.6 L663.1 524.6 L669.6 525.6 L676.1 526.7 L682.7 527.8 L689.2 528.8 L695.7 529.9 L702.3 531.1 L708.8 532.2 L715.3 533.3 L721.9 534.5 L728.4 535.7 L734.9 536.9 L741.5 538.1 L748.0 539.3 L754.5 540.5 L761.1 541.8 L767.6 543.1 L774.1 544.4 L780.7 545.7 L787.2 547.0 L793.7 548.4 L800.3 549.7 L806.8 551.1 L813.3 552.5 L819.9 553.9 L826.4 555.3 L832.9 556.7 L839.5 558.2 L846.0 559.7 L852.5 561.2 L859.1 562.7 L865.6 564.2 L872.1 565.7 L878.7 567.3 L885.2 568.9 L891.7 570.4 L898.3 572.0 L904.8 573.7 L911.3 575.3 L917.9 577.0 L924.4 578.6 L930.9 580.3 L937.5 582.0 L944.0 583.7 L950.5 585.5 L957.1 587.2 L963.6 589.0 L970.1 590.8 L976.7 592.6 L983.2 594.4 L989.7 596.2 L996.3 598.1 L1002.8 600.0 L1009.3 601.8 L1015.9 603.7 L1022.4 605.7 L1028.9 607.6 L1035.5 609.6 L1042.0 611.5 L1048.5 613.5 L1055.1 615.5 L1061.6 617.5 L1068.1 619.6 L1074.7 621.6 L1081.2 623.7 L1087.7 625.8 L1094.3 627.9 L1100.8 630.0 L1107.3 632.1 L1113.9 634.3 L1120.4 636.4 L1126.9 638.6 L1133.5 640.8 L1140.0 643.0 L1146.5 645.3 L1153.1 647.5 L1159.6 649.8 L1166.1 652.1 L1172.7 654.4 L1179.2 656.7 L1185.7 659.0 L1192.3 661.4 L1198.8 663.7 L1205.3 666.1 L1211.9 668.5 L1218.4 670.9 L1224.9 673.4 L1231.5 675.8 L1238.0 678.3 L1244.5 680.7 L1251.1 683.2 L1257.6 685.8 L1264.1 688.3 L1270.7 690.8 L1277.2 693.4 L1283.7 696.0 L1290.3 698.6 L1296.8 701.2 L1303.3 703.8 L1309.9 706.5 L1316.4 709.1 L1322.9 711.8 L1329.5 714.5 L1336.0 717.2 L1342.5 720.0 L1349.1 722.7 L1355.6 725.5 L1362.1 728.2 L1368.7 731.0 L1375.2 733.9 L1381.7 736.7 L1388.3 739.5 L1394.8 742.4 L1401.3 745.3 L1407.9 748.2 L1414.4 751.1 L1420.9 754.0 L1427.5 756.9 L1434.0 759.9 L1440.5 762.9 L1447.1 765.9 L1453.6 768.9 L1460.1 771.9 L1466.7 774.9 L1473.2 778.0 L1479.7 781.1 L1486.3 784.2 L1492.8 787.3 L1499.3 790.4 L1505.9 793.5 L1512.4 796.7 L1518.9 799.9 L1525.5 803.0 L1532.0 806.2 L1538.5 809.5 L1545.1 812.7 L1551.6 816.0 L1558.1 819.2 L1564.7 822.5 L1571.2 825.8 L1577.7 829.1 L1584.3 832.5 L1590.8 835.8 L1597.3 839.2 L1603.9 842.5 L1610.4 845.9 L1616.9 849.4 L1623.5 852.8 L1630.0 856.2 L1636.5 859.7 L1643.1 863.2 L1649.6 866.7 L1656.1 870.2 L1662.7 873.7 L1669.2 877.2 L1675.7 880.8 L1682.3 884.4 L1688.8 887.9 L1695.3 891.5 L1701.9 895.2 L1708.4 898.8 L1714.9 902.5 L1721.5 906.2 L1728.0 909.9 L1734.5 913.6 L1741.1 917.4 L1747.6 921.2 L1754.1 925.0 L1760.7 928.8 L1767.2 932.7 L1773.7 936.5 L1780.3 940.4 L1786.8 944.3 L1793.3 948.2 L1799.9 952.2 L1806.4 956.2 L1812.9 960.1 L1819.5 964.1 L1826.0 968.1 L1832.5 972.2 L1839.1 976.2 L1845.6 980.3 L1852.1 984.3 L1858.7 988.4 L1865.2 992.5 L1871.7 996.6 L1878.3 1000.8 L1884.8 1004.9 L1891.3 1009.0 L1897.9 1013.2 L1904.4 1017.4 L1910.9 1021.5 L1917.5 1025.7 L1924.0 1029.9 L1930.5 1034.1 L1937.1 1038.3 L1943.6 1042.5 L1950.1 1046.7 L1956.7 1050.9 L1963.2 1055.2 L1969.7 1059.4 L1976.3 1063.7 L1982.8 1067.9 L1989.3 1072.2 L1995.9 1076.5 L2002.4 1080.8 L2008.9 1085.1 L2015.5 1089.5 L2022.0 1093.8 L2028.5 1098.2 L2035.1 1102.6 L2041.6 1107.0 L2048.1 1111.4 L2054.7 1115.8 L2061.2 1120.2 L2067.7 1124.7 L2074.3 1129.1 L2080.8 1133.6 L2087.3 1138.1 L2093.9 1142.6 L2100.4 1147.1 L2106.9 1151.7 L2113.5 1156.2 L2120.0 1160.8 L2126.5 1165.3 L2133.1 1169.9 L2139.6 1174.5 L2146.1 1179.1 L2152.7 1183.8 L2159.2 1188.4 L2165.7 1193.1 L2172.3 1197.7 L2178.8 1202.4 L2185.3 1207.1 L2191.9 1211.8 L2198.4 1216.5" stroke="#0000ff" stroke-width="5.9" stroke-linejoin="round"/>
<path d="M233.8 387.2h27.2M247.4 373.6v27.2M302.1 413.0h27.2M315.7 399.4v27.2M373.6 311.5h27.2M387.2 297.9v27.2M445.1 461.0h27.2M458.7 447.4v27.2M518.5 397.8h27.2M532.1 384.2v27.2M592.4 583.0h27.2M606.0 569.4v27.2M668.7 616.2h27.2M682.3 602.6v27.2M745.3 568.5h27.2M758.9 554.9v27.2M817.4 551.4h27.2M831.0 537.8v27.2M894.7 662.7h27.2M908.3 649.1v27.2M964.4 788.7h27.2M978.0 775.1v27.2M1050.0 775.4h27.2M1063.6 761.8v27.2M1116.0 822.5h27.2M1129.6 808.9v27.2M1188.3 800.9h27.2M1201.9 787.3v27.2M1263.2 790.1h27.2M1276.8 776.5v27.2M1336.0 862.7h27.2M1349.6 849.1v27.2M1409.2 979.0h27.2M1422.8 965.4v27.2M1482.6 981.4h27.2M1496.2 967.8v27.2M1554.9 1000.0h27.2M1568.5 986.4v27.2M1629.8 1113.3h27.2M1643.4 1099.7v27.2M1705.1 1182.7h27.2M1718.7 1169.1v27.2M1774.0 1246.6h27.2M1787.6 1233.0v27.2M1850.2 1320.5h27.2M1863.8 1306.9v27.2M1925.5 1389.5h27.2M1939.1 1375.9v27.2M1997.7 1457.0h27.2M2011.3 1443.4v27.2" stroke="#00ff00" stroke-width="3.5" stroke-opacity="0.82"/>
<path clip-path="url(#pc)" d="M238.4 506.8 L244.9 506.8 L251.5 506.9 L258.0 506.9 L264.5 506.9 L271.1 507.0 L277.6 507.1 L284.1 507.2 L290.7 507.3 L297.2 507.4 L303.7 507.6 L310.3 507.7 L316.8 507.9 L323.3 508.1 L329.9 508.3 L336.4 508.5 L342.9 508.7 L349.5 508.9 L356.0 509.2 L362.5 509.5 L369.1 509.8 L375.6 510.1 L382.1 510.4 L388.7 510.7 L395.2 511.1 L401.7 511.4 L408.3 511.8 L414.8 512.2 L421.3 512.6 L427.9 513.1 L434.4 513.5 L440.9 514.0 L447.5 514.4 L454.0 514.9 L460.5 515.4 L467.1 516.0 L473.6 516.5 L480.1 517.0 L486.7 517.6 L493.2 518.2 L499.7 518.8 L506.3 519.4 L512.8 520.0 L519.3 520.7 L525.9 521.3 L532.4 522.0 L538.9 522.7 L545.5 523.4 L552.0 524.1 L558.5 524.9 L565.1 525.6 L571.6 526.4 L578.1 527.2 L584.7 528.0 L591.2 528.8 L597.7 529.6 L604.3 530.5 L610.8 531.3 L617.3 532.2 L623.9 533.1 L630.4 534.0 L636.9 534.9 L643.5 535.9 L650.0 536.8 L656.5 537.8 L663.1 538.8 L669.6 539.8 L676.1 540.8 L682.7 541.9 L689.2 542.9 L695.7 544.0 L702.3 545.1 L708.8 546.2 L715.3 547.3 L721.9 548.4 L728.4 549.6 L734.9 550.8 L741.5 551.9 L748.0 553.1 L754.5 554.4 L761.1 555.6 L767.6 556.8 L774.1 558.1 L780.7 559.4 L787.2 560.7 L793.7 562.0 L800.3 563.3 L806.8 564.6 L813.3 566.0 L819.9 567.4 L826.4 568.8 L832.9 570.2 L839.5 571.6 L846.0 573.0 L852.5 574.5 L859.1 576.0 L865.6 577.4 L872.1 578.9 L878.7 580.5 L885.2 582.0 L891.7 583.6 L898.3 585.1 L904.8 586.7 L911.3 588.3 L917.9 589.9 L924.4 591.6 L930.9 593.2 L937.5 594.9 L944.0 596.5 L950.5 598.2 L957.1 600.0 L963.6 601.7 L970.1 603.4 L976.7 605.2 L983.2 607.0 L989.7 608.8 L996.3 610.6 L1002.8 612.4 L1009.3 614.2 L1015.9 616.1 L1022.4 618.0 L1028.9 619.9 L1035.5 621.8 L1042.0 623.7 L1048.5 625.6 L1055.1 627.6 L1061.6 629.5 L1068.1 631.5 L1074.7 633.5 L1081.2 635.6 L1087.7 637.6 L1094.3 639.6 L1100.8 641.7 L1107.3 643.8 L1113.9 645.9 L1120.4 648.0 L1126.9 650.1 L1133.5 652.3 L1140.0 654.5 L1146.5 656.6 L1153.1 658.8 L1159.6 661.0 L1166.1 663.3 L1172.7 665.5 L1179.2 667.8 L1185.7 670.1 L1192.3 672.3 L1198.8 674.7 L1205.3 677.0 L1211.9 679.3 L1218.4 681.7 L1224.9 684.0 L1231.5 686.4 L1238.0 688.8 L1244.5 691.3 L1251.1 693.7 L1257.6 696.2 L1264.1 698.6 L1270.7 701.1 L1277.2 703.6 L1283.7 706.1 L1290.3 708.7 L1296.8 711.2 L1303.3 713.8 L1309.9 716.4 L1316.4 719.0 L1322.9 721.6 L1329.5 724.2 L1336.0 726.8 L1342.5 729.5 L1349.1 732.2 L1355.6 734.9 L1362.1 737.6 L1368.7 740.3 L1375.2 743.0 L1381.7 745.8 L1388.3 748.6 L1394.8 751.4 L1401.3 754.2 L1407.9 757.0 L1414.4 759.8 L1420.9 762.7 L1427.5 765.5 L1434.0 768.4 L1440.5 771.3 L1447.1 774.2 L1453.6 777.1 L1460.1 780.1 L1466.7 783.1 L1473.2 786.0 L1479.7 789.0 L1486.3 792.0 L1492.8 795.1 L1499.3 798.1 L1505.9 801.2 L1512.4 804.2 L1518.9 807.3 L1525.5 810.4 L1532.0 813.5 L1538.5 816.7 L1545.1 819.8 L1551.6 823.0 L1558.1 826.2 L1564.7 829.3 L1571.2 832.6 L1577.7 835.8 L1584.3 839.0 L1590.8 842.3 L1597.3 845.6 L1603.9 848.8 L1610.4 852.1 L1616.9 855.5 L1623.5 858.8 L1630.0 862.1 L1636.5 865.5 L1643.1 868.9 L1649.6 872.3 L1656.1 875.7 L1662.7 879.1 L1669.2 882.6 L1675.7 886.0 L1682.3 889.5 L1688.8 893.0 L1695.3 896.5 L1701.9 900.0 L1708.4 903.6 L1714.9 907.1 L1721.5 910.7 L1728.0 914.3 L1734.5 918.0 L1741.1 921.6 L1747.6 925.3 L1754.1 929.0 L1760.7 932.7 L1767.2 936.5 L1773.7 940.2 L1780.3 944.0 L1786.8 947.8 L1793.3 951.6 L1799.9 955.5 L1806.4 959.3 L1812.9 963.2 L1819.5 967.1 L1826.0 971.0 L1832.5 974.9 L1839.1 978.9 L1845.6 982.8 L1852.1 986.8 L1858.7 990.8 L1865.2 994.8 L1871.7 998.8 L1878.3 1002.8 L1884.8 1006.8 L1891.3 1010.8 L1897.9 1014.9 L1904.4 1018.9 L1910.9 1023.0 L1917.5 1027.1 L1924.0 1031.1 L1930.5 1035.2 L1937.1 1039.3 L1943.6 1043.4 L1950.1 1047.5 L1956.7 1051.6 L1963.2 1055.7 L1969.7 1059.9 L1976.3 1064.0 L1982.8 1068.2 L1989.3 1072.3 L1995.9 1076.5 L2002.4 1080.7 L2008.9 1084.9 L2015.5 1089.2 L2022.0 1093.4 L2028.5 1097.7 L2035.1 1101.9 L2041.6 1106.2 L2048.1 1110.5 L2054.7 1114.8 L2061.2 1119.2 L2067.7 1123.5 L2074.3 1127.9 L2080.8 1132.2 L2087.3 1136.6 L2093.9 1141.0 L2100.4 1145.4 L2106.9 1149.9 L2113.5 1154.3 L2120.0 1158.8 L2126.5 1163.2 L2133.1 1167.7 L2139.6 1172.2 L2146.1 1176.7 L2152.7 1181.3 L2159.2 1185.8 L2165.7 1190.4 L2172.3 1194.9 L2178.8 1199.5 L2185.3 1204.1 L2191.9 1208.7 L2198.4 1213.3" stroke="#00ff00" stroke-width="5.9" stroke-linejoin="round"/>
<path d="M232.5 267.4h27.2M246.1 253.8v27.2M302.1 404.7h27.2M315.7 391.1v27.2M365.2 378.6h27.2M378.8 365.0v27.2M440.2 353.3h27.2M453.8 339.7v27.2M515.4 227.4h27.2M529.0 213.8v27.2M592.2 434.1h27.2M605.8 420.5v27.2M667.4 575.3h27.2M681.0 561.7v27.2M740.8 491.5h27.2M754.4 477.9v27.2M818.0 707.7h27.2M831.6 694.1v27.2M890.7 750.1h27.2M904.3 736.5v27.2M965.6 656.6h27.2M979.2 643.0v27.2M1061.4 864.2h27.2M1075.0 850.6v27.2M1121.8 905.9h27.2M1135.4 892.3v27.2M1191.3 923.9h27.2M1204.9 910.3v27.2M1263.6 849.0h27.2M1277.2 835.4v27.2M1336.0 921.3h27.2M1349.6 907.7v27.2M1410.5 921.1h27.2M1424.1 907.5v27.2M1485.7 939.3h27.2M1499.3 925.7v27.2M1560.8 1074.2h27.2M1574.4 1060.6v27.2M1635.9 1131.4h27.2M1649.5 1117.8v27.2M1707.8 1205.9h27.2M1721.4 1192.3v27.2M1781.4 1262.2h27.2M1795.0 1248.6v27.2M1849.1 1312.5h27.2M1862.7 1298.9v27.2M1922.6 1338.4h27.2M1936.2 1324.8v27.2M1997.7 1435.7h27.2M2011.3 1422.1v27.2" stroke="#ff0000" stroke-width="3.5" stroke-opacity="0.82"/>
<path clip-path="url(#pc)" d="M238.4 521.5 L244.9 521.5 L251.5 521.6 L258.0 521.6 L264.5 521.6 L271.1 521.7 L277.6 521.8 L284.1 521.9 L290.7 522.0 L297.2 522.1 L303.7 522.2 L310.3 522.4 L316.8 522.6 L323.3 522.7 L329.9 522.9 L336.4 523.1 L342.9 523.4 L349.5 523.6 L356.0 523.9 L362.5 524.1 L369.1 524.4 L375.6 524.7 L382.1 525.0 L388.7 525.3 L395.2 525.7 L401.7 526.0 L408.3 526.4 L414.8 526.8 L421.3 527.2 L427.9 527.6 L434.4 528.1 L440.9 528.5 L447.5 529.0 L454.0 529.4 L460.5 529.9 L467.1 530.4 L473.6 531.0 L480.1 531.5 L486.7 532.1 L493.2 532.6 L499.7 533.2 L506.3 533.8 L512.8 534.4 L519.3 535.1 L525.9 535.7 L532.4 536.4 L538.9 537.0 L545.5 537.7 L552.0 538.4 L558.5 539.2 L565.1 539.9 L571.6 540.6 L578.1 541.4 L584.7 542.2 L591.2 543.0 L597.7 543.8 L604.3 544.6 L610.8 545.5 L617.3 546.3 L623.9 547.2 L630.4 548.1 L636.9 549.0 L643.5 549.9 L650.0 550.9 L656.5 551.8 L663.1 552.8 L669.6 553.8 L676.1 554.8 L682.7 555.8 L689.2 556.8 L695.7 557.9 L702.3 558.9 L708.8 560.0 L715.3 561.1 L721.9 562.2 L728.4 563.3 L734.9 564.5 L741.5 565.6 L748.0 566.8 L754.5 568.0 L761.1 569.2 L767.6 570.4 L774.1 571.7 L780.7 572.9 L787.2 574.2 L793.7 575.5 L800.3 576.7 L806.8 578.1 L813.3 579.4 L819.9 580.7 L826.4 582.1 L832.9 583.5 L839.5 584.9 L846.0 586.3 L852.5 587.7 L859.1 589.1 L865.6 590.6 L872.1 592.0 L878.7 593.5 L885.2 595.0 L891.7 596.5 L898.3 598.1 L904.8 599.6 L911.3 601.2 L917.9 602.8 L924.4 604.4 L930.9 606.0 L937.5 607.6 L944.0 609.2 L950.5 610.9 L957.1 612.6 L963.6 614.3 L970.1 616.0 L976.7 617.7 L983.2 619.4 L989.7 621.2 L996.3 622.9 L1002.8 624.7 L1009.3 626.5 L1015.9 628.3 L1022.4 630.2 L1028.9 632.0 L1035.5 633.9 L1042.0 635.8 L1048.5 637.6 L1055.1 639.6 L1061.6 641.5 L1068.1 643.4 L1074.7 645.4 L1081.2 647.3 L1087.7 649.3 L1094.3 651.3 L1100.8 653.3 L1107.3 655.4 L1113.9 657.4 L1120.4 659.5 L1126.9 661.6 L1133.5 663.7 L1140.0 665.8 L1146.5 667.9 L1153.1 670.1 L1159.6 672.2 L1166.1 674.4 L1172.7 676.6 L1179.2 678.8 L1185.7 681.0 L1192.3 683.2 L1198.8 685.5 L1205.3 687.8 L1211.9 690.0 L1218.4 692.3 L1224.9 694.7 L1231.5 697.0 L1238.0 699.3 L1244.5 701.7 L1251.1 704.1 L1257.6 706.5 L1264.1 708.9 L1270.7 711.3 L1277.2 713.7 L1283.7 716.2 L1290.3 718.7 L1296.8 721.1 L1303.3 723.6 L1309.9 726.2 L1316.4 728.7 L1322.9 731.2 L1329.5 733.8 L1336.0 736.4 L1342.5 739.0 L1349.1 741.6 L1355.6 744.2 L1362.1 746.8 L1368.7 749.5 L1375.2 752.2 L1381.7 754.8 L1388.3 757.5 L1394.8 760.3 L1401.3 763.0 L1407.9 765.7 L1414.4 768.5 L1420.9 771.3 L1427.5 774.1 L1434.0 776.9 L1440.5 779.7 L1447.1 782.5 L1453.6 785.4 L1460.1 788.2 L1466.7 791.1 L1473.2 794.0 L1479.7 796.9 L1486.3 799.9 L1492.8 802.8 L1499.3 805.8 L1505.9 808.7 L1512.4 811.7 L1518.9 814.7 L1525.5 817.8 L1532.0 820.8 L1538.5 823.8 L1545.1 826.9 L1551.6 830.0 L1558.1 833.1 L1564.7 836.2 L1571.2 839.3 L1577.7 842.4 L1584.3 845.6 L1590.8 848.8 L1597.3 851.9 L1603.9 855.1 L1610.4 858.4 L1616.9 861.6 L1623.5 864.8 L1630.0 868.1 L1636.5 871.4 L1643.1 874.7 L1649.6 878.0 L1656.1 881.3 L1662.7 884.6 L1669.2 888.0 L1675.7 891.3 L1682.3 894.7 L1688.8 898.1 L1695.3 901.5 L1701.9 904.9 L1708.4 908.4 L1714.9 911.8 L1721.5 915.3 L1728.0 918.8 L1734.5 922.4 L1741.1 925.9 L1747.6 929.5 L1754.1 933.1 L1760.7 936.7 L1767.2 940.4 L1773.7 944.0 L1780.3 947.7 L1786.8 951.4 L1793.3 955.1 L1799.9 958.9 L1806.4 962.6 L1812.9 966.4 L1819.5 970.2 L1826.0 974.0 L1832.5 977.8 L1839.1 981.6 L1845.6 985.5 L1852.1 989.3 L1858.7 993.2 L1865.2 997.1 L1871.7 1000.9 L1878.3 1004.8 L1884.8 1008.8 L1891.3 1012.7 L1897.9 1016.6 L1904.4 1020.6 L1910.9 1024.5 L1917.5 1028.5 L1924.0 1032.4 L1930.5 1036.4 L1937.1 1040.4 L1943.6 1044.4 L1950.1 1048.4 L1956.7 1052.3 L1963.2 1056.3 L1969.7 1060.4 L1976.3 1064.4 L1982.8 1068.4 L1989.3 1072.5 L1995.9 1076.5 L2002.4 1080.6 L2008.9 1084.7 L2015.5 1088.8 L2022.0 1093.0 L2028.5 1097.1 L2035.1 1101.2 L2041.6 1105.4 L2048.1 1109.6 L2054.7 1113.8 L2061.2 1118.0 L2067.7 1122.2 L2074.3 1126.5 L2080.8 1130.7 L2087.3 1135.0 L2093.9 1139.2 L2100.4 1143.5 L2106.9 1147.8 L2113.5 1152.2 L2120.0 1156.5 L2126.5 1160.8 L2133.1 1165.2 L2139.6 1169.6 L2146.1 1174.0 L2152.7 1178.4 L2159.2 1182.8 L2165.7 1187.2 L2172.3 1191.6 L2178.8 1196.1 L2185.3 1200.6 L2191.9 1205.1 L2198.4 1209.6" stroke="#ff0000" stroke-width="5.9" stroke-linejoin="round"/>
</g>
<g id="ylabels" font-size="86" fill="#262626" text-anchor="end">
<text x="211.8" y="1490.9">1</text>
<text x="211.8" y="1336.9">2</text>
<text x="211.8" y="1182.9">3</text>
<text x="211.8" y="1029.9">4</text>
<text x="211.8" y="875.7">5</text>
<text x="211.8" y="722.3">6</text>
<text x="211.8" y="569.4">7</text>
<text x="211.8" y="412.8">8</text>
<text x="211.8" y="258.5">9</text>
<text x="213.0" y="104.2">10</text>
</g>
<g id="xlabels" font-size="86" fill="#262626" text-anchor="middle">
<text x="238.6" y="1569.3">0</text>
<text x="434.2" y="1569.3">2</text>
<text x="629.8" y="1569.3">4</text>
<text x="825.4" y="1569.3">6</text>
<text x="1021.0" y="1569.3">8</text>
<text x="1216.6" y="1569.3">10</text>
<text x="1412.2" y="1569.3">12</text>
<text x="1607.8" y="1569.3">14</text>
<text x="1803.4" y="1569.3">16</text>
<text x="1999.0" y="1569.3">18</text>
<text x="2194.6" y="1569.3">20</text>
</g>
<text id="xlabel" x="1216.8" y="1677.3" font-size="93.8" fill="#262626" text-anchor="middle">Incidence angle θ (deg)</text>
<text id="ylabel" transform="translate(91.8 770.5) rotate(-90)" font-size="95.0" fill="#262626" text-anchor="middle">NRCS (dB)</text>
<text id="title" x="2138" y="202.4" font-size="96.7" fill="#000" text-anchor="end">Satellite/H*Wind</text>
<g id="legend" font-size="86.1" fill="#000">
<line x1="338.3" y1="982.5" x2="500.3" y2="982.5" stroke="#ff00ff" stroke-width="6.2"/>
<text x="510.4" y="1011.5">PO(E, 34 m/s)</text>
<line x1="338.3" y1="1084.6" x2="500.3" y2="1084.6" stroke="#00ffff" stroke-width="6.2"/>
<text x="510.4" y="1113.6">PO(E, 35 m/s)</text>
<line x1="338.3" y1="1186.7" x2="500.3" y2="1186.7" stroke="#0000ff" stroke-width="6.2"/>
<text x="510.4" y="1215.7">PO(E, 36 m/s)</text>
<line x1="338.3" y1="1288.8" x2="500.3" y2="1288.8" stroke="#00ff00" stroke-width="6.2"/>
<text x="510.4" y="1317.8">PO(E, 37 m/s)</text>
<line x1="338.3" y1="1390.9" x2="500.3" y2="1390.9" stroke="#ff0000" stroke-width="6.2"/>
<text x="510.4" y="1419.9">PO(E, 38 m/s)</text>
</g>
</g>
</svg></body></html>
